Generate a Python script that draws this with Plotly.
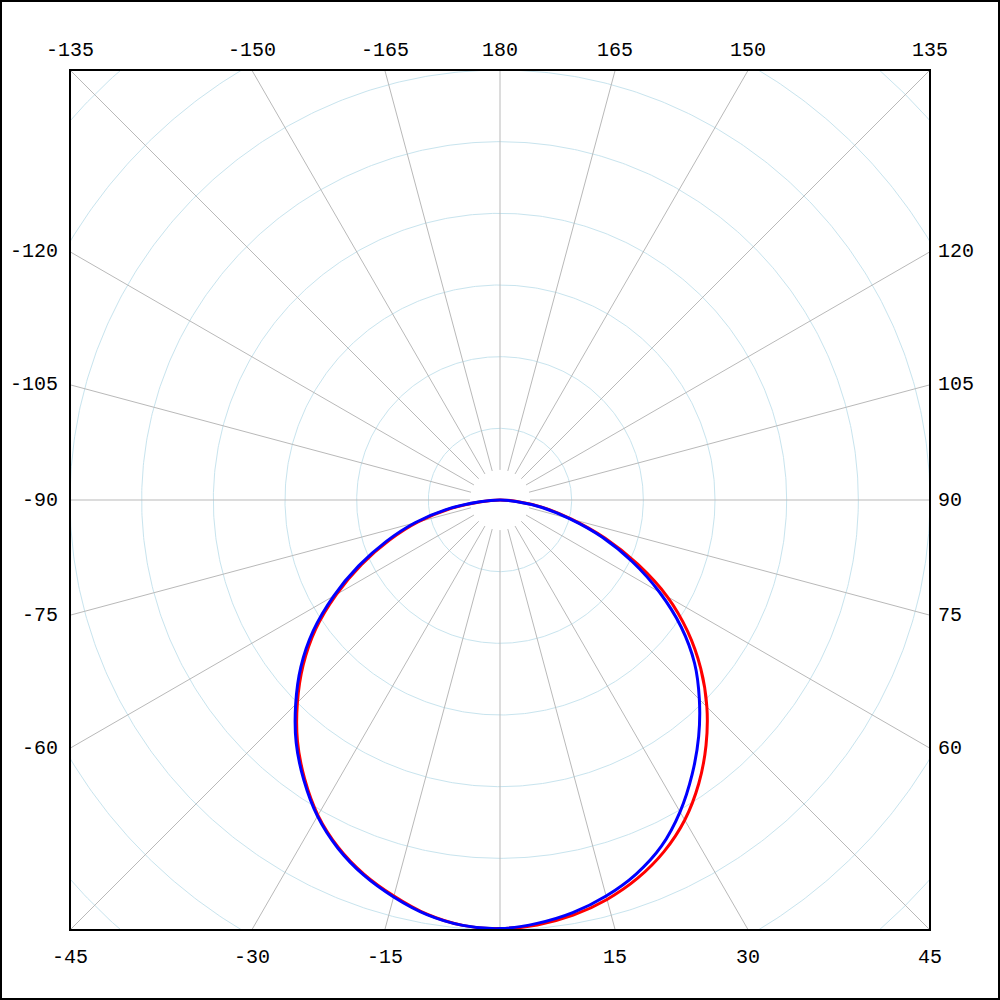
import numpy as np
import plotly.graph_objects as go

# ---- data (radial values in intensity units; frame half-width = 300) ----
angles = [-90, -85, -80, -75, -70, -65, -60, -55, -50, -45, -40, -35, -30, -25, -20,
          -15, -10, -5, 0, 5, 10, 15, 20, 25, 30, 35, 40, 45, 50, 55, 60, 65, 70, 75,
          80, 85, 90]
red_values = [0, 13.3, 35.6, 59.3, 82.3, 106.7, 131.9, 157, 179.3, 199.9, 219.8, 237.6,
              254, 267.2, 277.7, 286, 293.4, 297.9, 299, 297.6, 294.1, 288.5, 280.8,
              270.7, 257.8, 241.7, 223.6, 204.1, 182.8, 159.8, 134.7, 106, 78.1, 51.6,
              30.7, 11.9, 0]
blue_values = [0, 14, 37.7, 61.4, 84.4, 108.8, 134, 159, 181.4, 201.6, 221.2, 238.6,
               254.7, 267.9, 278.4, 286.7, 293.7, 297.9, 299, 296.5, 292.3, 286, 277.7,
               266.5, 251.2, 233.7, 215.6, 196.7, 177.2, 154.2, 128.4, 101.9, 76, 50.2,
               29.3, 11.2, 0]

R_MAX = 300
ring_step = 50
ring_count = 8
spoke_step = 15
spoke_start = 21

top_labels = [-135, -150, -165, 180, 165, 150, 135]
left_labels = [-120, -105, -90, -75, -60]
right_labels = [120, 105, 90, 75, 60]
bottom_labels = [-45, -30, -15, 15, 30, 45]

RING_COLOR = "#c8e4ee"
SPOKE_COLOR = "#b9b9b9"
FONT = dict(family="Liberation Mono, DejaVu Sans Mono, monospace", size=20, color="black")

fig = go.Figure()

# ---- background grid (cartesian) ----
t = np.linspace(0, 2 * np.pi, 721)
rx, ry = [], []
for k in range(1, ring_count + 1):
    r = k * ring_step
    rx += list(r * np.cos(t)) + [None]
    ry += list(r * np.sin(t)) + [None]
fig.add_trace(go.Scatter(x=rx, y=ry, mode="lines", line=dict(color=RING_COLOR, width=1),
                         hoverinfo="skip", showlegend=False))

sx, sy = [], []
far = 2000
for a in range(-180, 180, spoke_step):
    th = np.radians(a)
    sx += [spoke_start * np.sin(th), far * np.sin(th), None]
    sy += [-spoke_start * np.cos(th), -far * np.cos(th), None]
fig.add_trace(go.Scatter(x=sx, y=sy, mode="lines", line=dict(color=SPOKE_COLOR, width=1),
                         hoverinfo="skip", showlegend=False))

# ---- data curves (polar overlay) ----
fig.add_trace(go.Scatterpolar(r=red_values, theta=angles, mode="lines",
                              line=dict(color="#ff0000", width=3, shape="spline"),
                              subplot="polar", showlegend=False))
fig.add_trace(go.Scatterpolar(r=blue_values, theta=angles, mode="lines",
                              line=dict(color="#0000ff", width=3, shape="spline"),
                              subplot="polar", showlegend=False))

# ---- labels ----
def clean(v):
    return float(np.clip(np.round(v, 6), -R_MAX, R_MAX))

ann = []
for a in top_labels:
    ann.append(dict(x=clean(-R_MAX * np.tan(np.radians(a))), xref="x", y=1, yref="paper",
                    text=str(a), showarrow=False, yanchor="middle", xanchor="center",
                    yshift=20, font=FONT))
for a in bottom_labels:
    ann.append(dict(x=clean(R_MAX * np.tan(np.radians(a))), xref="x", y=0, yref="paper",
                    text=str(a), showarrow=False, yanchor="middle", xanchor="center",
                    yshift=-27, font=FONT))
for a in left_labels:
    ann.append(dict(x=0, xref="paper", y=clean(R_MAX / np.tan(np.radians(a))), yref="y",
                    text=str(a), showarrow=False, yanchor="middle", xanchor="right",
                    xshift=-10, font=FONT))
for a in right_labels:
    ann.append(dict(x=1, xref="paper", y=clean(-R_MAX / np.tan(np.radians(a))), yref="y",
                    text=str(a), showarrow=False, yanchor="middle", xanchor="left",
                    xshift=6, font=FONT))

M = 70
W = 1000
P = W - 2 * M
shapes = [
    dict(type="rect", xref="paper", yref="paper", x0=0, x1=1, y0=0, y1=1,
         line=dict(color="black", width=2), layer="above"),
    dict(type="rect", xref="paper", yref="paper",
         x0=(1 - M) / P, x1=(W - 1 - M) / P, y0=(1 - M) / P, y1=(W - 1 - M) / P,
         line=dict(color="black", width=2), layer="above"),
]

axis_common = dict(range=[-R_MAX, R_MAX], showgrid=False, zeroline=False,
                   showticklabels=False, ticks="", showline=False, fixedrange=True)
fig.update_layout(
    width=W, height=W,
    margin=dict(l=M, r=M, t=M, b=M),
    paper_bgcolor="white", plot_bgcolor="white",
    xaxis=dict(**axis_common),
    yaxis=dict(**axis_common),
    polar=dict(domain=dict(x=[0, 1], y=[0, 1]), bgcolor="rgba(0,0,0,0)",
               radialaxis=dict(range=[0, R_MAX], visible=False),
               angularaxis=dict(rotation=270, direction="counterclockwise", visible=False)),
    annotations=ann,
    shapes=shapes,
    showlegend=False,
)

fig.write_html("out.html", config={"displayModeBar": False},
               post_script="document.body.style.margin='0';document.body.style.overflow='hidden';")
